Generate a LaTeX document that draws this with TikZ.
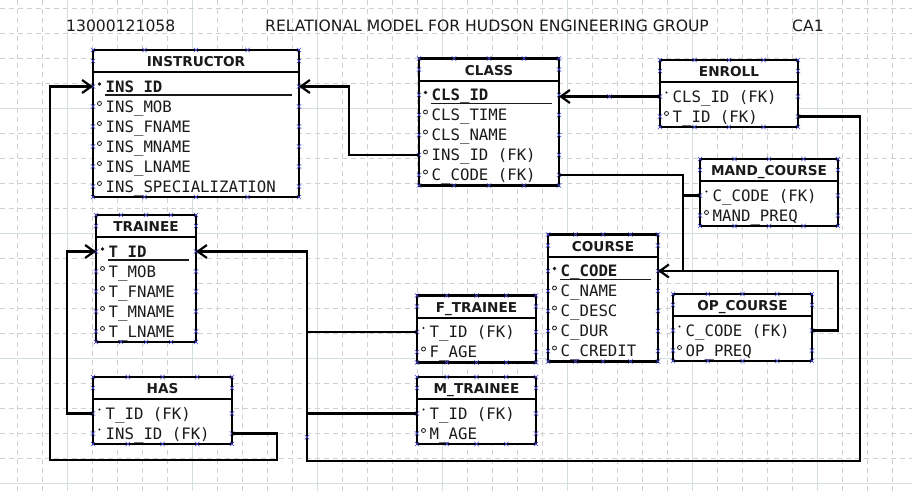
\documentclass[tikz,border=0pt]{standalone}
\usepackage{fontspec}
\setmainfont{DejaVu Sans}
\newfontfamily\monofam{DejaVu Sans Mono}
\usetikzlibrary{arrows.meta}
\definecolor{ink}{HTML}{1A1A1A}
\definecolor{gridmin}{HTML}{D0D0D0}
\definecolor{gridmaj}{HTML}{D3DEE0}
\definecolor{handle}{HTML}{4A4AD6}
\newcommand{\rowfont}{\monofam\fontsize{15.7}{18}\selectfont}
\tikzset{
  tbl/.style={draw=black, line width=2.5pt, fill=white},
  divider/.style={draw=black, line width=2pt},
  head/.style={font=\bfseries\fontsize{13.6}{16}\selectfont, text=ink, inner sep=0pt},
  row/.style={font=\rowfont, text=ink, inner sep=0pt},
  title/.style={font=\fontsize{15.6}{18}\selectfont, text=ink, inner sep=0pt},
  link/.style={draw=black, line width=2.2pt},
  rel/.style={link, -{Straight Barb[length=9pt,width=13pt,line width=2.2pt]}},
  grid minor/.style={draw=gridmin, line width=0.8pt, dash pattern=on 5pt off 4pt},
  grid major/.style={draw=gridmaj, line width=0.9pt},
  % row kinds: pk = key, fk = required, op = optional
  tx-pk/.style={font=\rowfont\bfseries},
  tx-fk/.style={},
  tx-op/.style={},
  mk-pk/.style={circle, fill=ink, inner sep=0pt, minimum size=3.6pt, yshift=2.5pt},
  mk-fk/.style={circle, fill=ink, inner sep=0pt, minimum size=2.2pt, yshift=4pt},
  mk-op/.style={circle, draw=ink, line width=0.8pt, inner sep=0pt, minimum size=4pt, yshift=3pt},
  ul-pk/.style={draw=ink, line width=1.3pt},
  ul-fk/.style={},
  ul-op/.style={},
  hx/.pic={\draw[draw=handle, line width=0.6pt] (-2.2,-2.2) -- (2.2,2.2) (-2.2,2.2) -- (2.2,-2.2);}
}
\newcommand{\ErTable}[7]{%
  % #1 = name, #2 = left, #3 = top, #4 = right, #5 = number of rows, #6 = title, #7 = kind/text list
  \pgfmathsetmacro{\tbot}{#3+27+20*#5}
  \draw[tbl] (#2,#3) rectangle (#4,\tbot);
  \draw[divider] (#2,#3+22) -- (#4,#3+22);
  \node[head, anchor=base] (#1) at ({(#2+#4)/2},#3+16.5) {#6};
  \foreach [count=\i] \kind/\txt in {#7} {
    \pgfmathsetmacro{\ry}{#3+36.5+20*(\i-1)}
    \coordinate (#1-\i-w) at (#2,\ry);
    \coordinate (#1-\i-e) at (#4,\ry);
    \node[row, tx-\kind, anchor=base west] (#1-\i) at (#2+12.5,\ry+5.6) {\txt};
    \node[mk-\kind] at (#2+6.5,\ry) {};
    \path[ul-\kind] (#2+12,\ry+8.5) -- (#4-7,\ry+8.5);
    \pic at (#2,\ry) {hx};
    \pic at (#4,\ry) {hx};
  }
  % selection handles
  \foreach \f in {0,0.25,0.5,0.75,1} {
    \pic at ({#2+\f*(#4-#2)},#3) {hx};
    \pic at ({#2+\f*(#4-#2)},\tbot) {hx};
  }
  \pic at (#2,#3+11) {hx};
  \pic at (#4,#3+11) {hx};
}

\begin{document}
\begin{tikzpicture}[x=1pt, y=-1pt]
  \fill[white] (0,0) rectangle (912,491);
  \useasboundingbox (0,0) rectangle (912,491);
  % background grid
  \foreach \gx in {17,42,...,912} \draw[grid minor] (\gx,0) -- (\gx,491);
  \foreach \gy in {8,33,...,491} \draw[grid minor] (0,\gy) -- (912,\gy);
  \foreach \gx in {67,192,...,912} \draw[grid major] (\gx,0) -- (\gx,491);
  \foreach \gy in {108,233,...,491} \draw[grid major] (0,\gy) -- (912,\gy);

  \node[title, anchor=base west] (sid) at (66,31) {13000121058};
  \node[title, anchor=base west] (head) at (265,31) {RELATIONAL MODEL FOR HUDSON ENGINEERING GROUP};
  \node[title, anchor=base west] (ca) at (792,31) {CA1};

  \coordinate (crsJoin) at (683,0);
  \coordinate (busSE) at (860,461);
  \coordinate (busSW) at (307,461);
  \coordinate (hasLoop) at (50,460);

  \ErTable{ins}{93}{50}{299}{6}{INSTRUCTOR}{pk/INS\_ID, op/INS\_MOB, op/INS\_FNAME, op/INS\_MNAME, op/INS\_LNAME, op/INS\_SPECIALIZATION}
  \ErTable{cls}{419}{58.5}{559}{5}{CLASS}{pk/CLS\_ID, op/CLS\_TIME, op/CLS\_NAME, op/INS\_ID (FK), op/C\_CODE (FK)}
  \ErTable{enr}{660}{60}{798}{2}{ENROLL}{fk/CLS\_ID (FK), op/T\_ID (FK)}
  \ErTable{mnd}{700}{159}{838}{2}{MAND\_COURSE}{fk/C\_CODE (FK), op/MAND\_PREQ}
  \ErTable{trn}{96}{215}{196}{5}{TRAINEE}{pk/T\_ID, op/T\_MOB, op/T\_FNAME, op/T\_MNAME, op/T\_LNAME}
  \ErTable{crs}{548}{234.5}{658}{5}{COURSE}{pk/C\_CODE, op/C\_NAME, op/C\_DESC, op/C\_DUR, op/C\_CREDIT}
  \ErTable{ftr}{417}{295.5}{536}{2}{F\_TRAINEE}{fk/T\_ID (FK), op/F\_AGE}
  \ErTable{opc}{673}{294}{812}{2}{OP\_COURSE}{fk/C\_CODE (FK), op/OP\_PREQ}
  \ErTable{has}{93}{377}{232}{2}{HAS}{fk/T\_ID (FK), fk/INS\_ID (FK)}
  \ErTable{mtr}{417}{377}{536}{2}{M\_TRAINEE}{fk/T\_ID (FK), op/M\_AGE}

  % relationships
  \draw[rel] (cls-4-w) -- ++(-70,0) |- (ins-1-e);
  \draw[rel] (enr-1-w) -- (enr-1-w -| cls-1-e);
  \path (enr-1-w) -- (enr-1-w -| cls-1-e) pic[pos=.5]{hx};
  \draw[rel] (cls-5-e) -| (crsJoin |- crs-1-e) -- (crs-1-e);
  \draw[link] (mnd-1-w) -- (crsJoin |- mnd-1-w);
  \draw[link] (opc-1-e) -- ++(26,0) |- (crsJoin |- crs-1-e);
  \draw[rel] (enr-2-e) -| (busSE) -- (busSW) |- (trn-1-e);
  \draw[link] (ftr-1-w) -- (busSW |- ftr-1-w);
  \draw[link] (mtr-1-w) -- (busSW |- mtr-1-w);
  \path (busSW |- mtr-1-w) -- (busSW) pic[pos=.5]{hx};
  \draw[rel] (has-1-w) -- ++(-26,0) |- (trn-1-w);
  \draw[rel] (has-2-e) -- ++(45,0) |- (hasLoop) |- (ins-1-w);
\end{tikzpicture}
\end{document}
